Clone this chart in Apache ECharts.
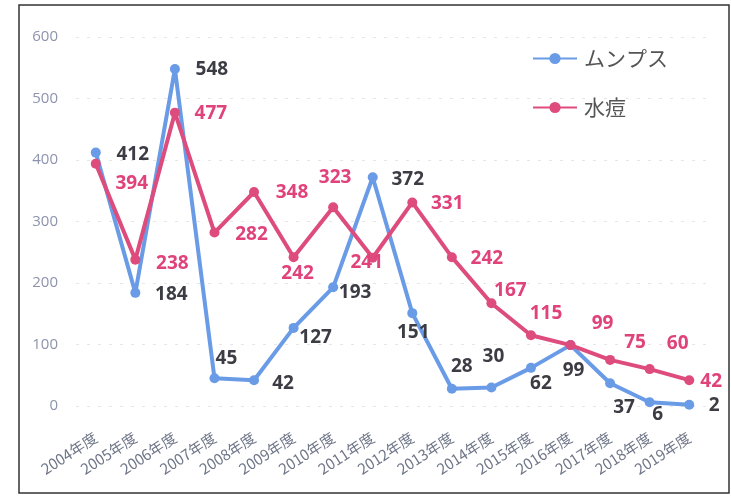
<!DOCTYPE html>
<html>
<head>
<meta charset="utf-8">
<script src="https://cdn.jsdelivr.net/npm/echarts@6/dist/echarts.min.js"></script>
<style>
  html, body { margin: 0; padding: 0; background: #fff; }
  #main { width: 731px; height: 496px; }
</style>
</head>
<body>
<div id="main"></div>
<script>
// 年度
var years = ['2004年度', '2005年度', '2006年度', '2007年度', '2008年度', '2009年度', '2010年度', '2011年度',
  '2012年度', '2013年度', '2014年度', '2015年度', '2016年度', '2017年度', '2018年度', '2019年度'];
var mumps = [412, 184, 548, 45, 42, 127, 193, 372, 151, 28, 30, 62, 99, 37, 6, 2];
var varicella = [394, 238, 477, 282, 348, 242, 323, 241, 331, 242, 167, 115, 99, 75, 60, 42];
var yTicks = [0, 100, 200, 300, 400, 500, 600];

// ラベルの位置（点からのずれ）
var mumpsOffsets = [[37, 2], [36, 2], [37, 1], [12, -20], [29, 3], [22, 10], [22, 5], [35, 2],
  [1, 19], [10, -22], [2, -31], [10, 16], [3, 25], [14, 24], [8, 12], [25, 1]];
var varicellaOffsets = [[36, 20], [37, 4], [36, 1], [37, 2], [38, 1], [4, 16], [2, -30], [-6, 5],
  [35, 1], [35, 1], [19, -13], [15, -22], [32, -22], [25, -17], [28, -26], [22, 1]];

function withLabels(values, offsets) {
  return values.map(function (v, i) {
    return { value: v, label: { offset: offsets[i] } };
  });
}

var chart = echarts.init(document.getElementById('main'));

var option = {
  backgroundColor: '#fff',
  animation: false,
  graphic: [{
    type: 'rect',
    shape: { x: 19, y: 5, width: 710, height: 488 },
    style: { fill: 'none', stroke: '#333', lineWidth: 1.5 },
    silent: true
  }],
  legend: {
    orient: 'vertical',
    left: 527,
    top: 43,
    itemWidth: 44,
    itemHeight: 14,
    itemGap: 28,
    textStyle: { fontSize: 21, color: '#555', fontFamily: 'Noto Sans CJK JP', padding: [0, 0, 0, 2] },
    data: ['ムンプス', '水痘']
  },
  grid: { left: 76, right: 22, top: 37, bottom: 90, containLabel: false },
  xAxis: {
    type: 'category',
    data: years,
    boundaryGap: true,
    axisLine: { show: false },
    axisTick: { show: false },
    axisLabel: {
      rotate: 33,
      interval: 0,
      margin: 30,
      color: '#6f7688',
      fontSize: 15,
      fontFamily: 'Noto Sans CJK JP'
    }
  },
  yAxis: {
    type: 'value',
    min: yTicks[0],
    max: yTicks[yTicks.length - 1],
    interval: 100,
    axisLine: { show: false },
    axisTick: { show: false },
    axisLabel: { color: '#8d93ad', fontSize: 15, margin: 18, fontFamily: 'Open Sans' },
    splitLine: { lineStyle: { color: '#e6e6ea', type: [3, 8] } }
  },
  series: [{
    name: 'ムンプス',
    type: 'line',
    data: withLabels(mumps, mumpsOffsets),
    color: '#6a9be6',
    symbol: 'circle',
    symbolSize: 10,
    lineStyle: { width: 4 },
    label: {
      show: true,
      position: 'inside',
      align: 'center',
      verticalAlign: 'middle',
      color: '#3c3c44',
      fontSize: 19,
      fontWeight: 'bold',
      fontFamily: 'Open Sans'
    },
    z: 2
  }, {
    name: '水痘',
    type: 'line',
    data: withLabels(varicella, varicellaOffsets),
    color: '#dd4c7c',
    symbol: 'circle',
    symbolSize: 10,
    lineStyle: { width: 4 },
    label: {
      show: true,
      position: 'inside',
      align: 'center',
      verticalAlign: 'middle',
      color: '#e0427a',
      fontSize: 19,
      fontWeight: 'bold',
      fontFamily: 'Open Sans'
    },
    z: 3
  }]
};

chart.setOption(option);
</script>
</body>
</html>
